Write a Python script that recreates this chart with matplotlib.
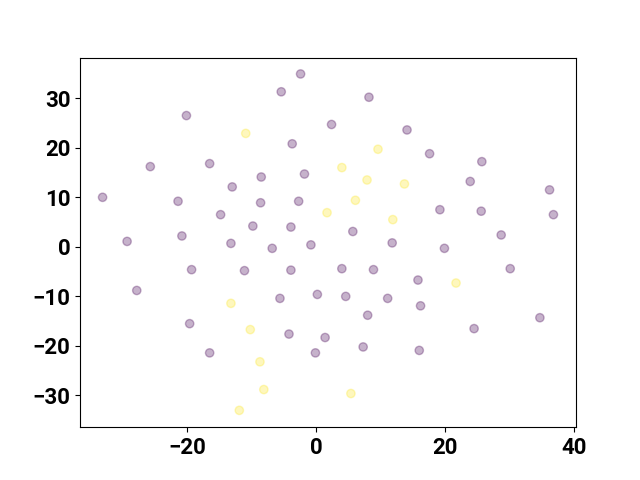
import numpy as np
import matplotlib
matplotlib.use("Agg")
import matplotlib.pyplot as plt

# embedded points, class 0 (purple) and class 1 (yellow)
x0 = [-2.4, -5.4, -20.1, 2.4, -3.7, -25.7, -16.5, -8.5, -1.8, -13.0, -33.1,
      -21.4, -8.6, -2.7, -14.8, -9.8, -3.9, -29.3, -20.8, -13.2, -6.8, -0.8,
      8.2, 14.1, 17.6, 25.7, 23.9, 36.2, 19.2, 25.6, 36.8, 5.7, 28.7, 11.8,
      19.9, -19.3, -11.1, -3.9, -27.8, -5.6, 0.2, -19.6, -4.2, 1.4, -16.5,
      -0.1, 4.0, 8.9, 30.1, 15.8, 4.6, 11.1, 16.2, 8.0, 34.7, 24.5, 7.3, 16.0]
y0 = [34.9, 31.3, 26.5, 24.7, 20.8, 16.2, 16.8, 14.1, 14.7, 12.1, 10.0,
      9.2, 8.9, 9.2, 6.5, 4.2, 4.0, 1.1, 2.2, 0.7, -0.3, 0.4,
      30.2, 23.6, 18.8, 17.2, 13.2, 11.5, 7.5, 7.2, 6.5, 3.1, 2.4, 0.8,
      -0.3, -4.6, -4.8, -4.7, -8.8, -10.4, -9.6, -15.5, -17.6, -18.3, -21.4,
      -21.4, -4.4, -4.6, -4.4, -6.7, -10.0, -10.4, -11.9, -13.8, -14.3, -16.5, -20.2, -20.9]
x1 = [-10.9, 1.7, 9.6, 4.0, 7.9, 13.7, 6.1, 11.9, -13.2, -10.2, -8.7, -8.1,
      -11.9, 21.7, 5.4]
y1 = [22.9, 6.9, 19.7, 16.0, 13.5, 12.7, 9.4, 5.5, -11.4, -16.7, -23.2, -28.8,
      -33.0, -7.3, -29.6]

x = np.array(x0 + x1)
y = np.array(y0 + y1)
labels = np.array([0]*len(x0) + [1]*len(x1))

plt.rcParams['font.family'] = ['Roboto', 'DejaVu Sans']
plt.rcParams['font.size'] = 16
plt.rcParams['font.weight'] = 'bold'

fig, ax = plt.subplots(figsize=(6.4, 4.8), dpi=100)
ax.scatter(x, y, c=labels, cmap='viridis', alpha=0.3)
ax.set_xlim(-36.6, 40.3)
ax.set_ylim(-36.4, 38.2)
ax.set_xticks([-20, 0, 20, 40])
ax.set_yticks([-30, -20, -10, 0, 10, 20, 30])
for lbl in ax.get_xticklabels() + ax.get_yticklabels():
    lbl.set_fontweight('bold')

plt.savefig('out.png')
